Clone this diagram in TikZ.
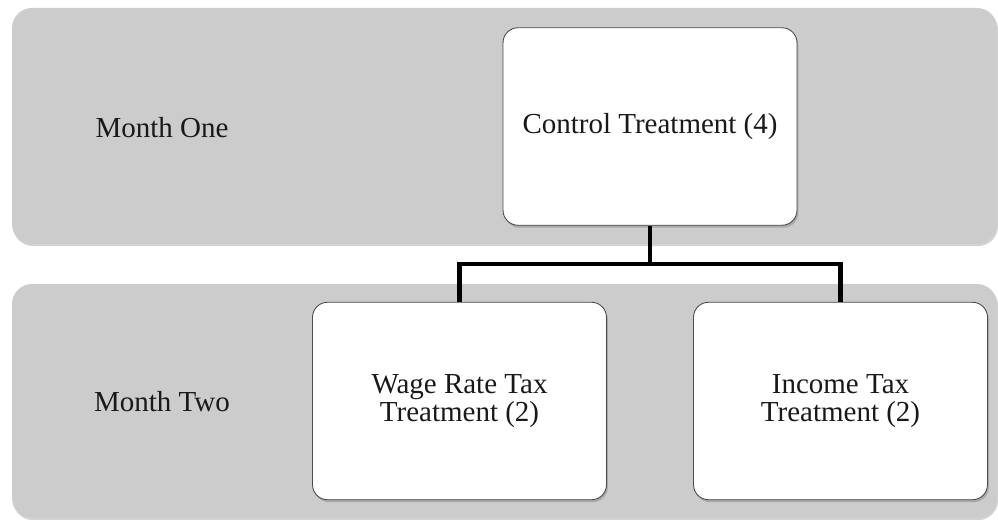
\documentclass[tikz,border=0pt]{standalone}
\usepackage{fontspec}
\setmainfont{Liberation Serif}
\usetikzlibrary{shadows}

\begin{document}
\begin{tikzpicture}[x=0.02cm, y=-0.02cm]
        \tikzstyle{band}=[fill=black!20, rounded corners=0.4cm, drop shadow={shadow xshift=0.6pt, shadow yshift=-1.2pt, opacity=0.35}]
        \tikzstyle{month}=[font=\fontsize{16.5}{19}\selectfont, text=black!90]
        \tikzstyle{treat}=[rectangle, fill=white, draw=black!70, line width=0.5pt, rounded corners=0.3cm, minimum width=5.88cm, minimum height=3.95cm, align=center, font=\fontsize{16.5}{15.5}\selectfont, text=black!90, drop shadow={shadow xshift=0.8pt, shadow yshift=-1.4pt, opacity=0.45}]
        \tikzstyle{edge}=[black, line width=2.3pt]

        \useasboundingbox (0,0) rectangle (998,520);

        % the two month bands
        \fill[band] (12,8) rectangle (997,244);
        \fill[band] (12,284) rectangle (997,518);

        \node[month] (one) at (162,128) {Month One};
        \node[month] (two) at (162,402) {Month Two};

        \node[treat] (ctrl)   at (650,126.5) {Control Treatment (4)};
        \node[treat] (wage)   at (459.5,401) {Wage Rate Tax\\Treatment (2)};
        \node[treat] (income) at (840.5,401) {Income Tax\\Treatment (2)};

        \coordinate (split) at (650,264);

        \draw[edge] (ctrl.south) -- (split);
        \draw[edge] (split) -| (wage.north);
        \draw[edge] (split) -| (income.north);
\end{tikzpicture}
\end{document}
